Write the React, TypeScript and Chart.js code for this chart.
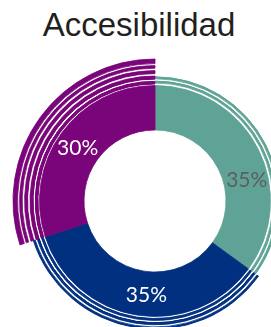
import React, { useEffect, useRef } from "react";
import { Chart, registerables } from "chart.js";

Chart.register(...registerables);

// ---- data ----
const title = "Accesibilidad";
const categories = ["Accesible", "No accesible", "Parcialmente accesible"];
const values = [35, 35, 30];
const valueLabels = ["35%", "35%", "30%"];

// ---- styles ----
const colors = ["#5fa396", "#00307f", "#7a0479"];
const labelColors = ["#5e5e5e", "#ffffff", "#ffffff"];
const labelAngleFrac = [0.61, 0.47, 0.49];

const INNER = 71;
const MAIN: [number, number] = [71, 115.5];
const RINGS: [number, number][][] = [
  [[118, 120], [122.2, 124.2]],
  [[117.5, 119.5], [121.8, 123.8], [126, 128]],
  [[117, 119.6], [122, 125], [127.4, 130.4], [132.8, 135.4], [137.4, 142]],
];

function buildDatasets() {
  const bounds = new Set<number>();
  [MAIN, ...RINGS.flat()].forEach(([a, b]) => { bounds.add(a); bounds.add(b); });
  const sorted = Array.from(bounds).sort((a, b) => b - a);
  const datasets: any[] = [];
  let mainIndex = 0;
  for (let i = 0; i < sorted.length - 1; i++) {
    const outer = sorted[i];
    const inner = sorted[i + 1];
    const mid = (outer + inner) / 2;
    const isMain = mid > MAIN[0] && mid < MAIN[1];
    const bg = values.map((_, s) => {
      const inside = isMain || RINGS[s].some(([a, b]) => mid > a && mid < b);
      return inside ? colors[s] : "rgba(0,0,0,0)";
    });
    if (isMain) mainIndex = datasets.length;
    datasets.push({
      data: values,
      backgroundColor: bg,
      borderColor: bg,
      borderWidth: 0.8,
      weight: outer - inner,
    });
  }
  return { datasets, outer: sorted[0], mainIndex };
}

export default function App() {
  const ref = useRef<HTMLCanvasElement>(null);
  useEffect(() => {
    const { datasets, outer, mainIndex } = buildDatasets();
    const labelPlugin = {
      id: "valueLabels",
      afterDatasetsDraw(chart: any) {
        const ctx = chart.ctx;
        const meta = chart.getDatasetMeta(mainIndex);
        ctx.save();
        ctx.font = '21px "Lato", "DejaVu Sans", sans-serif';
        ctx.textAlign = "center";
        ctx.textBaseline = "alphabetic";
        meta.data.forEach((el: any, i: number) => {
          const p = el.getProps(["x", "y", "startAngle", "endAngle", "innerRadius", "outerRadius"], true);
          const ang = p.startAngle + (p.endAngle - p.startAngle) * labelAngleFrac[i];
          const r = (p.innerRadius + p.outerRadius) / 2 + 1;
          const tx = p.x + Math.cos(ang) * r;
          const ty = p.y + Math.sin(ang) * r;
          ctx.fillStyle = labelColors[i];
          ctx.fillText(valueLabels[i], tx, ty + 7.5);
        });
        ctx.restore();
      },
    };
    const chart = new Chart(ref.current!, {
      type: "doughnut",
      data: { labels: categories, datasets },
      options: {
        responsive: false,
        animation: false,
        devicePixelRatio: 1,
        radius: outer,
        cutout: `${(INNER / outer) * 100}%`,
        layout: { padding: 0 },
        events: [],
        plugins: {
          legend: { display: false },
          tooltip: { enabled: false },
          title: { display: false },
        },
      } as any,
      plugins: [labelPlugin],
    });
    return () => chart.destroy();
  }, []);

  return (
    <div
      style={{
        position: "fixed",
        left: 0,
        top: 0,
        width: 271,
        height: 327,
        overflow: "hidden",
        background: "#ffffff",
      }}
    >
      <div
        style={{
          position: "absolute",
          left: 39,
          top: 8,
          width: 200,
          textAlign: "center",
          font: '33px/33px "Liberation Sans", Arial, sans-serif',
          color: "#231f20",
          whiteSpace: "nowrap",
        }}
      >
        {title}
      </div>
      <canvas
        ref={ref}
        width={300}
        height={300}
        style={{ position: "absolute", left: 5, top: 51, width: 300, height: 300 }}
      />
    </div>
  );
}
